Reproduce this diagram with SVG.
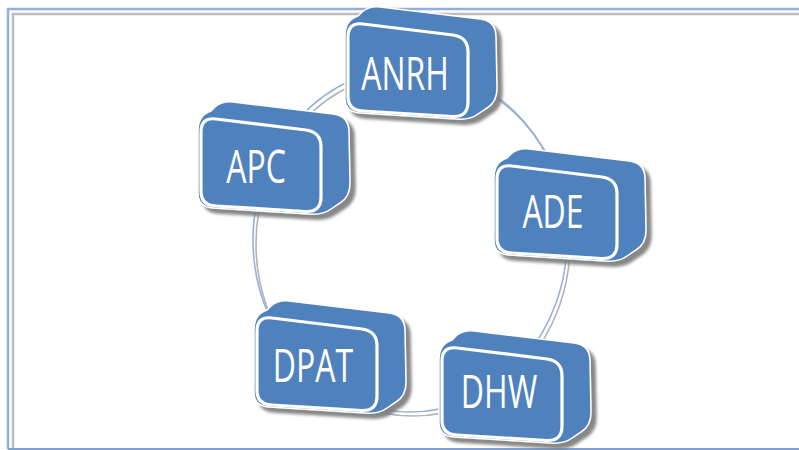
<svg xmlns="http://www.w3.org/2000/svg" xmlns:xlink="http://www.w3.org/1999/xlink" width="799" height="450" viewBox="0 0 799 450">
  <style>
    .frame-blue { fill: none; stroke: #8fb0de; stroke-width: 2.5; }
    .frame-gray { fill: none; stroke: #bdbdbd; stroke-width: 2.5; }
    .ring { fill: none; stroke: #94b2dc; stroke-width: 1.6; }
    .ring-shadow { fill: none; stroke: #b3b3b3; stroke-width: 1.6; }
    .solid { fill: #4f81bd; stroke: #ffffff; stroke-width: 1.5; }
    .face { fill: #4f81bd; stroke: #ffffff; stroke-width: 3.2; }
    .label { font-family: "Open Sans", "Noto Sans", sans-serif; font-size: 32px; fill: #ffffff; text-anchor: middle; }
  </style>
  <defs>
    <filter id="drop" x="-20%" y="-20%" width="140%" height="140%">
      <feDropShadow dx="5" dy="5" stdDeviation="1.5" flood-color="#7a7a7a" flood-opacity="0.9"/>
    </filter>
    <!-- extruded rounded block, front face top-left at the origin -->
    <g id="block">
      <path class="solid" filter="url(#drop)" d="M -3,14 Q -3,-2 10,-6 L 14,-10 Q 21,-16 32,-15 L 132,-3 Q 148,-1 148,15 L 149,66 Q 149,80 139,86 L 130,92 Q 122,98 108,97 L 12,91 Q -3,90 -3,76 Z"/>
      <path class="face" d="M 15,2 L 105,13 Q 120,15 120,30 L 120,80 Q 120,95 105,94.5 L 15,89 Q 0,88.5 0,74 L 0,15 Q 0,0 15,2 Z"/>
    </g>
  </defs>

  <rect width="799" height="450" fill="#ffffff"/>

  <!-- page frame -->
  <g id="frame">
    <path class="frame-blue" d="M 8,449 L 8,9 L 799,9"/>
    <path class="frame-gray" d="M 13,449 L 13,14 L 799,14"/>
    <path d="M 8,449 L 799,449" fill="none" stroke="#7f9fcf" stroke-width="2"/>
  </g>

  <!-- cycle ring linking the blocks -->
  <g id="connectors">
    <ellipse class="ring-shadow" cx="413" cy="244" rx="157" ry="172"/>
    <ellipse class="ring" cx="410" cy="240" rx="157" ry="172"/>
  </g>

  <g id="node-anrh" transform="translate(348,22)">
    <use xlink:href="#block"/>
    <text class="label" transform="translate(57,68) scale(1,1.45)">ANRH</text>
  </g>
  <g id="node-ade" transform="translate(497,164)">
    <use xlink:href="#block"/>
    <text class="label" transform="translate(56,64) scale(1,1.45)">ADE</text>
  </g>
  <g id="node-dhw" transform="translate(442,346)">
    <use xlink:href="#block"/>
    <text class="label" transform="translate(57,62) scale(1,1.45)">DHW</text>
  </g>
  <g id="node-dpat" transform="translate(257,316)">
    <use xlink:href="#block"/>
    <text class="label" transform="translate(56,66) scale(1,1.45)">DPAT</text>
  </g>
  <g id="node-apc" transform="translate(201,117)">
    <use xlink:href="#block"/>
    <text class="label" transform="translate(55,66) scale(1,1.45)">APC</text>
  </g>
</svg>
